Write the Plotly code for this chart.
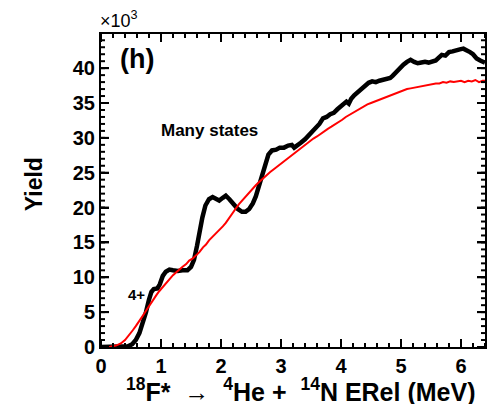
import plotly.graph_objects as go

# Relative-energy spectrum, 18F* -> 4He + 14N (yield in units of 10^3)
erel_data = [0.00, 0.30, 0.45, 0.52, 0.58, 0.64, 0.70, 0.75, 0.80, 0.84, 0.88, 0.94, 0.98,
             1.03, 1.08, 1.14, 1.20, 1.28, 1.36, 1.44, 1.50, 1.55, 1.60, 1.64, 1.69, 1.74,
             1.80, 1.86, 1.92, 1.97, 2.03, 2.08, 2.14, 2.21, 2.28, 2.35, 2.41, 2.47, 2.53,
             2.58, 2.63, 2.68, 2.74, 2.79, 2.85, 2.92, 2.98, 3.05, 3.12, 3.18, 3.22, 3.27,
             3.33, 3.40, 3.46, 3.52, 3.58, 3.64, 3.70, 3.76, 3.82, 3.88, 3.94, 4.00, 4.05,
             4.09, 4.13, 4.17, 4.22, 4.28, 4.34, 4.40, 4.46, 4.52, 4.58, 4.64, 4.70, 4.76,
             4.82, 4.86, 4.92, 4.98, 5.04, 5.10, 5.16, 5.22, 5.28, 5.34, 5.40, 5.46, 5.52,
             5.58, 5.63, 5.68, 5.74, 5.80, 5.86, 5.92, 5.98, 6.04, 6.10, 6.15, 6.20, 6.26,
             6.32, 6.40]
yield_data = [0.0, 0.0, 0.1, 0.4, 1.0, 2.0, 3.6, 5.0, 6.8, 7.9, 8.3, 8.4, 9.0,
              10.2, 10.8, 11.1, 11.0, 10.9, 11.0, 11.0, 11.5, 12.5, 14.5, 16.5, 18.6, 20.3,
              21.2, 21.5, 21.2, 21.0, 21.4, 21.7, 21.2, 20.4, 19.8, 19.4, 19.4, 19.8, 20.6,
              21.6, 23.0, 24.4, 26.2, 27.6, 28.2, 28.3, 28.6, 28.6, 28.9, 29.0, 28.6, 29.0,
              29.3, 29.8, 30.3, 30.8, 31.4, 32.0, 32.8, 33.0, 33.4, 33.6, 34.1, 34.5, 35.0,
              35.2, 34.9, 35.6, 36.1, 36.6, 37.1, 37.5, 37.9, 38.1, 38.0, 38.2, 38.3, 38.5,
              38.6, 38.9, 39.5, 40.1, 40.5, 40.9, 41.2, 40.9, 40.7, 40.8, 40.9, 40.8, 41.0,
              41.1, 41.5, 41.9, 41.8, 42.3, 42.4, 42.6, 42.7, 42.8, 42.6, 42.3, 42.0, 41.4,
              41.1, 40.8]

# Many-states simulation
erel_sim = [0.00, 0.15, 0.25, 0.33, 0.40, 0.47, 0.53, 0.58, 0.64, 0.69, 0.75, 0.80, 0.86,
            0.92, 0.97, 1.03, 1.08, 1.14, 1.20, 1.25, 1.30, 1.36, 1.42, 1.47, 1.53, 1.58,
            1.64, 1.70, 1.75, 1.80, 1.86, 1.92, 1.97, 2.03, 2.08, 2.14, 2.20, 2.25, 2.30,
            2.36, 2.42, 2.47, 2.53, 2.58, 2.64, 2.70, 2.76, 2.82, 2.88, 2.94, 3.00, 3.06,
            3.12, 3.18, 3.24, 3.30, 3.36, 3.42, 3.48, 3.54, 3.60, 3.66, 3.72, 3.78, 3.84,
            3.90, 3.96, 4.02, 4.08, 4.14, 4.20, 4.26, 4.32, 4.38, 4.44, 4.50, 4.56, 4.62,
            4.68, 4.74, 4.80, 4.86, 4.92, 4.98, 5.04, 5.10, 5.16, 5.22, 5.28, 5.34, 5.40,
            5.46, 5.52, 5.58, 5.64, 5.70, 5.76, 5.82, 5.88, 5.94, 6.00, 6.06, 6.12, 6.18,
            6.24, 6.30, 6.36, 6.40]
yield_sim = [0.0, 0.05, 0.2, 0.5, 1.0, 1.7, 2.4, 3.0, 3.7, 4.4, 5.2, 5.9, 6.7,
             7.4, 8.0, 8.6, 9.2, 9.8, 10.3, 10.7, 11.1, 11.5, 11.9, 12.4, 12.7, 13.1,
             13.6, 14.3, 14.7, 15.3, 15.8, 16.3, 16.8, 17.3, 17.8, 18.6, 19.3, 19.9, 20.5,
             21.1, 21.7, 22.2, 22.7, 23.2, 23.7, 24.2, 24.6, 25.1, 25.5, 25.9, 26.3, 26.7,
             27.2, 27.5, 27.9, 28.3, 28.7, 29.1, 29.5, 29.9, 30.2, 30.6, 30.9, 31.3, 31.6,
             31.9, 32.2, 32.6, 33.0, 33.3, 33.6, 33.9, 34.3, 34.6, 34.8, 35.0, 35.2, 35.4,
             35.6, 35.9, 36.1, 36.3, 36.5, 36.7, 36.9, 37.0, 37.1, 37.2, 37.3, 37.4, 37.5,
             37.7, 37.7, 37.8, 37.8, 38.0, 37.9, 38.1, 38.0, 38.1, 38.2, 38.0, 38.2, 38.1,
             38.3, 38.0, 38.2, 38.2]

# Axis ticks: labelled major values and minor subdivisions
x_ticks = [0, 1, 2, 3, 4, 5, 6]
y_ticks = [0, 5, 10, 15, 20, 25, 30, 35, 40]
x_minor_step = 0.2
y_minor_step = 1

X_RANGE = [0, 6.4]
Y_RANGE = [0, 44.9]
FONT = "Liberation Sans"
MAJOR_LEN, MINOR_LEN = 8, 4

fig = go.Figure()
fig.add_trace(go.Scatter(x=erel_data, y=yield_data, mode="lines",
                         line=dict(color="black", width=4.5), showlegend=False))
fig.add_trace(go.Scatter(x=erel_sim, y=yield_sim, mode="lines",
                         line=dict(color="#ff0000", width=2), showlegend=False))

tick_font = dict(family=FONT, size=20, color="black", weight="bold")
axis_style = dict(ticks="inside", ticklen=MAJOR_LEN, tickwidth=2, tickcolor="black",
                  showline=True, linecolor="black", linewidth=2, mirror="ticks",
                  showgrid=False, zeroline=False, tickfont=tick_font)
fig.update_xaxes(range=X_RANGE, tickmode="array", tickvals=x_ticks, **axis_style)
fig.update_yaxes(range=Y_RANGE, tickmode="array", tickvals=y_ticks, **axis_style)


# Inward tick marks on all four frame sides (major + minor)
def x_tick_marks(values, length):
    marks = []
    for v in values:
        for anchor, sign in ((0, 1), (1, -1)):
            marks.append(dict(type="line", xref="x", yref="paper", ysizemode="pixel",
                              yanchor=anchor, x0=v, x1=v, y0=0, y1=sign * length,
                              line=dict(color="black", width=2), layer="above"))
    return marks


def y_tick_marks(values, length):
    marks = []
    for v in values:
        for anchor, sign in ((0, 1), (1, -1)):
            marks.append(dict(type="line", xref="paper", yref="y", xsizemode="pixel",
                              xanchor=anchor, x0=0, x1=sign * length, y0=v, y1=v,
                              line=dict(color="black", width=2), layer="above"))
    return marks


x_minor = [round(i * x_minor_step, 3) for i in range(int(X_RANGE[1] / x_minor_step + 1e-9) + 1)]
y_minor = [i * y_minor_step for i in range(int(Y_RANGE[1] / y_minor_step) + 1)]

shapes = (x_tick_marks(x_ticks, MAJOR_LEN) + x_tick_marks(x_minor, MINOR_LEN)
          + y_tick_marks(y_ticks, MAJOR_LEN) + y_tick_marks(y_minor, MINOR_LEN))

annotations = [
    dict(text="×10<sup>3</sup>", x=0, y=1, xref="paper", yref="paper",
         xanchor="left", yanchor="bottom", yshift=1, xshift=-3, showarrow=False,
         font=dict(family=FONT, size=18, color="black")),
    dict(text="<b>(h)</b>", x=0.045, y=0.975, xref="paper", yref="paper",
         xanchor="left", yanchor="top", showarrow=False,
         font=dict(family=FONT, size=27, color="black")),
    dict(text="<b>Many states</b>", x=0.97, y=31.1, xref="x", yref="y",
         xanchor="left", yanchor="middle", showarrow=False,
         font=dict(family=FONT, size=17, color="black")),
    dict(text="<b>4+</b>", x=0.42, y=7.5, xref="x", yref="y",
         xanchor="left", yanchor="middle", showarrow=False,
         font=dict(family=FONT, size=15, color="black")),
    dict(text="<b><sup>18</sup>F*</b>  →  <b><sup>4</sup>He +  <sup>14</sup>N ERel (MeV)</b>",
         x=0.52, y=0, xref="paper", yref="paper", xanchor="center", yanchor="top",
         yshift=-25, showarrow=False,
         font=dict(family=FONT, size=25, color="black")),
    dict(text="<b>Yield</b>", x=0, y=0.52, xref="paper", yref="paper",
         xanchor="center", yanchor="middle", xshift=-67, textangle=-90, showarrow=False,
         font=dict(family=FONT, size=23, color="black")),
]

fig.update_layout(
    width=487, height=404,
    margin=dict(l=101, r=0, t=34, b=57),
    plot_bgcolor="white", paper_bgcolor="white",
    annotations=annotations,
    shapes=shapes,
)

fig.write_html("out.html")
